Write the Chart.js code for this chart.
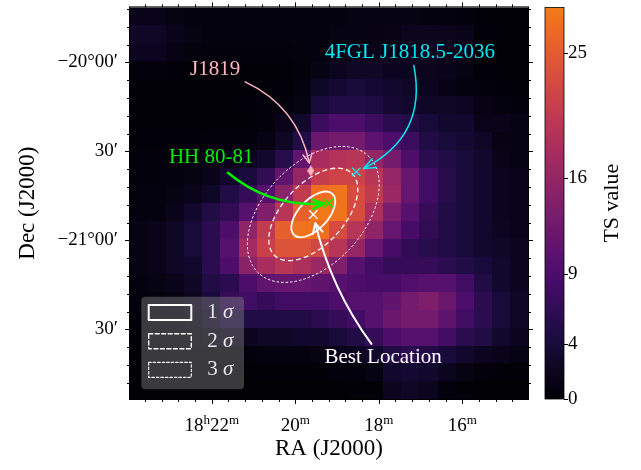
<!DOCTYPE html>
<html>
<head>
<meta charset="utf-8">
<script src="https://cdn.jsdelivr.net/npm/chart.js@4.4.1/dist/chart.umd.min.js"></script>
<style>
  html, body { margin: 0; padding: 0; background: #fff; }
</style>
</head>
<body>
<canvas id="tsChart" width="641" height="470"></canvas>
<script>
// TS map: 22 x 22 pixels of 0.1 deg; row 0 = north (top), col 0 = east (left)
const tsMap = [
  [1.5,1.5,1.0,0.8,0.8,0.8,0.8,0.8,0.8,0.8,0.8,0.9,1.0,1.0,1.0,1.0,0.9,0.7,0.5,0.3,0.3,0.3],
  [2.5,2.5,1.5,1.0,0.8,0.8,0.8,0.7,0.7,0.7,0.8,1.0,1.0,1.2,1.3,1.8,1.8,1.7,1.5,0.4,0.3,0.3],
  [2.0,2.0,1.2,0.6,0.5,0.5,0.5,0.5,0.5,0.6,0.8,1.2,1.5,1.5,1.5,2.0,2.0,1.8,1.5,0.4,0.3,0.3],
  [0.5,0.5,0.4,0.3,0.3,0.3,0.3,0.3,0.3,0.5,1.0,2.0,2.5,2.5,2.0,2.0,1.8,1.5,1.0,0.4,0.3,0.3],
  [0.3,0.3,0.3,0.3,0.3,0.3,0.3,0.3,0.4,0.8,2.5,3.5,4.0,3.5,3.0,2.5,2.0,1.2,0.8,0.5,0.4,0.3],
  [0.3,0.3,0.3,0.3,0.3,0.3,0.4,0.5,0.5,1.0,4.0,5.0,5.0,4.5,3.5,3.0,2.5,2.5,2.2,1.2,0.7,0.5],
  [0.3,0.3,0.3,0.3,0.3,0.3,0.3,0.5,1.5,3.0,7.5,9.0,9.0,7.5,6.0,5.0,4.0,3.0,3.0,1.5,1.5,1.0],
  [0.4,0.4,0.4,0.4,0.5,0.5,0.5,1.0,2.5,5.0,12,13,13,10.5,9.0,7.5,5.0,4.0,3.5,2.5,1.2,1.0],
  [0.5,0.5,0.5,0.7,1.0,1.5,2.0,3.0,5.5,11,18,19,19.5,16,13,9.0,6.0,5.0,4.0,3.0,1.5,1.0],
  [0.5,0.5,0.7,1.0,1.5,3.0,4.0,6.5,11,16,21,22,22,19.5,16,11.5,8.0,5.5,4.0,3.0,2.0,1.5],
  [0.6,0.7,1.0,1.5,2.5,5.0,7.0,10,15,20.5,27,27.5,23,20.5,16.5,11.5,8.0,5.5,4.0,3.0,2.0,1.5],
  [0.7,0.8,1.5,3.0,5.0,6.5,10,14,19.5,25.5,28,27.5,23,18.5,13.5,10,7.0,5.0,4.0,3.0,2.0,1.5],
  [1.0,1.5,2.5,4.0,6.0,9.0,15.5,20.5,25.5,27.5,27,23,19.5,15.5,11.5,8.5,6.5,5.0,4.0,3.0,2.2,1.6],
  [1.0,1.5,2.5,4.0,6.0,10,17.5,21.5,24,24,22.5,19.5,16,11.5,8.5,6.5,5.5,5.0,4.0,3.0,2.5,2.0],
  [1.0,1.5,2.5,3.0,6.0,9.0,15,18,19.5,18.5,16.5,14,10,8.0,7.0,7.0,7.0,6.0,5.0,4.0,3.0,2.0],
  [0.7,1.0,1.5,2.5,5.0,6.0,9.0,11,11.5,11.5,11,10,9.0,8.5,8.5,9.5,10,10,8.0,5.0,3.0,2.0],
  [0.5,0.8,1.0,2.0,4.0,7.0,8.0,7.0,8.0,8.0,8.0,9.0,10,10,11,13,14,12,9.0,6.0,4.0,2.5],
  [0.4,0.6,0.8,1.5,3.0,5.0,5.0,5.0,5.0,5.0,6.0,7.0,8.0,10,12,13,13,11,8.0,6.0,4.0,2.5],
  [0.3,0.4,0.5,0.8,1.5,2.0,2.0,2.5,2.5,3.0,3.0,4.0,5.0,7.0,9.0,10,10,8.0,6.0,5.0,3.0,2.0],
  [0.2,0.2,0.3,0.3,0.3,0.4,0.5,0.7,0.7,0.8,1.0,1.5,2.0,3.0,5.0,6.0,5.0,4.0,3.0,2.0,1.5,1.0],
  [0.1,0.1,0.1,0.1,0.1,0.1,0.2,0.2,0.2,0.2,0.3,0.5,0.5,1.0,3.0,3.5,3.0,2.0,1.0,0.5,0.3,0.3],
  [0.1,0.1,0.1,0.1,0.1,0.1,0.1,0.1,0.1,0.1,0.1,0.1,0.2,0.3,2.0,2.5,2.0,0.5,0.2,0.1,0.1,0.1]
];
const mapRaLeft = 23.957;  // RA of left edge, minutes past 18h
const mapRaStep = 0.4333;  // RA minutes per map pixel
const mapDecTop = -19.691; // Dec of top edge, deg
const mapDecStep = 0.1;

const raMajorTicks = [22, 20, 18, 16];
const raTickHour = ['18', '', '', ''];
const raTickMin = ['22', '20', '18', '16'];
const raMinorStep = 0.4;
const decMajorTicks = [-20, -20.5, -21, -21.5];
const decTickLabels = ['\u221220\u00b000\u2032', '30\u2032', '\u221221\u00b000\u2032', '30\u2032'];
const decMinorStep = 0.1;

const tsTicks = [0, 4, 9, 16, 25];
const tsMax = 28.3;

const srcNames = ['Best Location', 'HH 80-81', '4FGL J1818.5-2036', 'J1819'];
const srcRa = [19.567, 19.202, 18.537, 19.629];
const srcDec = [-20.854, -20.791, -20.615, -20.609];
const srcColors = ['#ffffff', '#00f000', '#00e8f0', '#ffb6c1'];

// error contours around the best location (deg)
const sigmaLabels = ['1', '2', '3'];
const sigmaMajor = [0.158, 0.317, 0.451];
const sigmaMinor = [0.082, 0.172, 0.282];
const sigmaAngle = 47;

const FONT = "'Liberation Serif', 'DejaVu Serif', serif";
Chart.defaults.font.family = FONT;
Chart.defaults.color = '#000';

// inferno, cut at 0.71
const cmapT = [0, 0.111, 0.222, 0.25, 0.333, 0.444, 0.5, 0.556, 0.667, 0.75];
const cmapRGB = [[0,0,4],[27,12,65],[74,12,107],[86,16,110],[120,28,109],[165,44,96],[187,55,84],[207,68,70],[237,105,37],[249,140,10]];
function tsColor(v) {
  const t = Math.max(0, Math.min(1, v / tsMax)) * 0.71;
  let i = 0;
  while (i < cmapT.length - 2 && t > cmapT[i + 1]) i++;
  const f = (t - cmapT[i]) / (cmapT[i + 1] - cmapT[i]);
  const c = cmapRGB[i].map((a, k) => Math.round(a + (cmapRGB[i + 1][k] - a) * f));
  return 'rgb(' + c.join(',') + ')';
}

const diamond = document.createElement('canvas');
diamond.width = 7; diamond.height = 11;
(function () {
  const d = diamond.getContext('2d');
  d.fillStyle = srcColors[3];
  d.beginPath(); d.moveTo(3.5, 0); d.lineTo(7, 5.5); d.lineTo(3.5, 11); d.lineTo(0, 5.5); d.closePath(); d.fill();
})();

// annotation layout: text centre in axes fraction, arrow start offset (px), arc rad
const notes = [
  { src: 0, fx: 0.636, fy: 0.895, dx: -11.7, dy: -14, rad: 0.1, lw: 2, shrink: 9, hl: 10, hw: 5 },
  { src: 1, fx: 0.204, fy: 0.384, dx: 16.7, dy: 15, rad: -0.2, lw: 2.5, shrink: 4.5, hl: 11, hw: 4.5 },
  { src: 2, fx: 0.703, fy: 0.114, dx: 4, dy: 13.4, rad: 0.38, lw: 1.5, shrink: 8, hl: 12, hw: 5 },
  { src: 3, fx: 0.214, fy: 0.158, dx: 30, dy: 12.6, rad: 0.25, lw: 1.5, shrink: 8, hl: 9, hw: 4.5 }
];

function arcCtrl(p0, p2, rad) {
  const dx = p2[0] - p0[0], dy = p2[1] - p0[1];
  return [(p0[0] + p2[0]) / 2 + rad * dy, (p0[1] + p2[1]) / 2 - rad * dx];
}

const tsMapPlugin = {
  id: 'tsMap',
  beforeDatasetsDraw(chart) {
    const { ctx, chartArea: a, scales: { x, y } } = chart;
    ctx.save();
    ctx.beginPath();
    ctx.rect(a.left, a.top, a.right - a.left, a.bottom - a.top);
    ctx.clip();
    tsMap.forEach((row, r) => row.forEach((v, c) => {
      const x0 = Math.round(x.getPixelForValue(mapRaLeft - c * mapRaStep));
      const x1 = Math.round(x.getPixelForValue(mapRaLeft - (c + 1) * mapRaStep));
      const y0 = Math.round(y.getPixelForValue(mapDecTop - r * mapDecStep));
      const y1 = Math.round(y.getPixelForValue(mapDecTop - (r + 1) * mapDecStep));
      ctx.fillStyle = tsColor(v);
      ctx.fillRect(x0, y0, x1 - x0, y1 - y0);
    }));

    const cx = x.getPixelForValue(srcRa[0]);
    const cy = y.getPixelForValue(srcDec[0]);
    const ppd = Math.abs(y.getPixelForValue(-20) - y.getPixelForValue(-21));
    const dashes = [[], [5, 3], [2.5, 2]];
    const widths = [1.8, 1.3, 1.0];
    ctx.strokeStyle = '#ffffff';
    sigmaMajor.forEach((sa, i) => {
      ctx.lineWidth = widths[i];
      ctx.setLineDash(dashes[i]);
      ctx.beginPath();
      ctx.ellipse(cx, cy, sa * ppd, sigmaMinor[i] * ppd, -sigmaAngle * Math.PI / 180, 0, 2 * Math.PI);
      ctx.stroke();
    });
    ctx.restore();
  },
  afterDatasetsDraw(chart) {
    const { ctx, chartArea: a, scales: { x, y } } = chart;
    const w = a.right - a.left, h = a.bottom - a.top;
    ctx.save();
    // annotations
    notes.forEach(n => {
      const col = srcColors[n.src];
      const tx = a.left + n.fx * w, ty = a.top + n.fy * h;
      ctx.font = '21px ' + FONT;
      ctx.fillStyle = col;
      ctx.textAlign = 'center';
      ctx.textBaseline = 'middle';
      ctx.fillText(srcNames[n.src], tx, ty);

      const p0 = [tx + n.dx, ty + n.dy];
      const tgt = [x.getPixelForValue(srcRa[n.src]), y.getPixelForValue(srcDec[n.src])];
      let c = arcCtrl(p0, tgt, n.rad);
      let ux = tgt[0] - c[0], uy = tgt[1] - c[1];
      let ul = Math.hypot(ux, uy);
      const tip = [tgt[0] - n.shrink * ux / ul, tgt[1] - n.shrink * uy / ul];
      c = arcCtrl(p0, tip, n.rad);
      ux = tip[0] - c[0]; uy = tip[1] - c[1]; ul = Math.hypot(ux, uy);
      ux /= ul; uy /= ul;
      ctx.strokeStyle = col;
      ctx.lineWidth = n.lw;
      ctx.lineCap = 'round';
      ctx.lineJoin = 'round';
      ctx.beginPath();
      ctx.moveTo(p0[0], p0[1]);
      ctx.quadraticCurveTo(c[0], c[1], tip[0], tip[1]);
      ctx.stroke();
      ctx.beginPath();
      ctx.moveTo(tip[0] - n.hl * ux - n.hw * uy, tip[1] - n.hl * uy + n.hw * ux);
      ctx.lineTo(tip[0], tip[1]);
      ctx.lineTo(tip[0] - n.hl * ux + n.hw * uy, tip[1] - n.hl * uy - n.hw * ux);
      ctx.stroke();
    });

    // legend
    const lx = a.left + 11.3, lw = 102.7, lh = 92.6;
    const ly = a.bottom - 9.7 - lh;
    ctx.fillStyle = 'rgba(128,128,128,0.45)';
    ctx.beginPath();
    ctx.roundRect(lx, ly, lw, lh, 4);
    ctx.fill();
    const dashes = [[], [4, 2.5], [2.5, 2]];
    const widths = [2, 1.4, 1.1];
    sigmaLabels.forEach((lab, i) => {
      const hy = ly + 15.8 + i * 28.7;
      ctx.strokeStyle = '#ffffff';
      ctx.lineWidth = widths[i];
      ctx.setLineDash(dashes[i]);
      ctx.strokeRect(lx + 7.4, hy - 7.5, 42.6, 15);
      ctx.setLineDash([]);
      ctx.fillStyle = '#e8e8e8';
      ctx.textAlign = 'left';
      ctx.textBaseline = 'middle';
      ctx.font = '21px ' + FONT;
      const t1 = lab + ' ';
      ctx.fillText(t1, lx + 66, hy);
      const tw = ctx.measureText(t1).width;
      ctx.font = 'italic 21px ' + FONT;
      ctx.fillText('\u03c3', lx + 66 + tw, hy);
    });
    ctx.restore();
  },
  afterDraw(chart) {
    const { ctx, chartArea: a, scales: { x, y, cb } } = chart;
    ctx.save();
    ctx.strokeStyle = '#000';
    ctx.lineWidth = 1;
    const line = (x0, y0, x1, y1) => { ctx.beginPath(); ctx.moveTo(x0, y0); ctx.lineTo(x1, y1); ctx.stroke(); };
    ctx.strokeRect(a.left - 0.5, a.top - 0.5, a.right - a.left + 1, a.bottom - a.top + 1);

    // RA ticks (top and bottom)
    for (let k = Math.ceil((x.min - 16) / raMinorStep - 1e-6); 16 + k * raMinorStep <= x.max + 1e-9; k++) {
      const v = 16 + k * raMinorStep;
      const major = raMajorTicks.some(m => Math.abs(m - v) < 1e-6);
      const len = major ? 5 : 3;
      const px = Math.round(x.getPixelForValue(v)) + 0.5;
      line(px, a.bottom, px, a.bottom + len);
      line(px, a.top, px, a.top - len);
    }
    // Dec ticks (left and right)
    for (let k = Math.ceil((y.min + 20) / decMinorStep - 1e-6); -20 + k * decMinorStep <= y.max + 1e-9; k++) {
      const v = -20 + k * decMinorStep;
      const major = decMajorTicks.some(m => Math.abs(m - v) < 1e-6);
      const len = major ? 5 : 3;
      const py = Math.round(y.getPixelForValue(v)) + 0.5;
      line(a.left, py, a.left - len, py);
      line(a.right, py, a.right + len, py);
    }

    // RA tick labels with superscripts
    ctx.fillStyle = '#000';
    ctx.textBaseline = 'alphabetic';
    ctx.textAlign = 'left';
    const base = '19px ' + FONT, sup = '13px ' + FONT;
    raMajorTicks.forEach((v, i) => {
      const parts = [];
      if (raTickHour[i]) parts.push([raTickHour[i], base, 0], ['h', sup, -7]);
      parts.push([raTickMin[i], base, 0], ['m', sup, -7]);
      let total = 0;
      parts.forEach(p => { ctx.font = p[1]; p.push(ctx.measureText(p[0]).width); total += p[3]; });
      let px = x.getPixelForValue(v) - total / 2;
      parts.forEach(p => { ctx.font = p[1]; ctx.fillText(p[0], px, 431 + p[2]); px += p[3]; });
    });

    // colour bar
    const bx0 = a.right + 17, bx1 = a.right + 36;
    const by0 = cb.getPixelForValue(tsMax), by1 = cb.getPixelForValue(0);
    const grad = ctx.createLinearGradient(0, by1, 0, by0);
    for (let s = 0; s <= 40; s++) grad.addColorStop(s / 40, tsColor(tsMax * s / 40));
    ctx.fillStyle = grad;
    ctx.fillRect(bx0, by0, bx1 - bx0, by1 - by0);
    ctx.lineWidth = 0.8;
    ctx.strokeRect(bx0, by0, bx1 - bx0, by1 - by0);
    ctx.lineWidth = 1;
    tsTicks.forEach(v => {
      const py = Math.round(cb.getPixelForValue(v)) + 0.5;
      line(bx1, py, bx1 + 4, py);
    });
    ctx.translate(612, (a.top + a.bottom) / 2);
    ctx.rotate(-Math.PI / 2);
    ctx.fillStyle = '#000';
    ctx.font = '22px ' + FONT;
    ctx.textAlign = 'center';
    ctx.textBaseline = 'middle';
    ctx.fillText('TS value', 0, 0);
    ctx.restore();
  }
};

new Chart(document.getElementById('tsChart').getContext('2d'), {
  type: 'scatter',
  data: {
    datasets: srcNames.map((name, i) => ({
      label: name,
      data: [{ x: srcRa[i], y: srcDec[i] }],
      pointStyle: i === 3 ? diamond : 'crossRot',
      pointRadius: 6,
      pointHoverRadius: 6,
      borderColor: srcColors[i],
      backgroundColor: srcColors[i],
      borderWidth: 1.4
    }))
  },
  options: {
    responsive: false,
    animation: false,
    devicePixelRatio: 1,
    events: [],
    layout: { padding: { top: 3, left: 0, right: 0, bottom: 0 } },
    plugins: { legend: { display: false }, tooltip: { enabled: false } },
    scales: {
      x: {
        type: 'linear',
        reverse: true,
        min: mapRaLeft - tsMap[0].length * mapRaStep,
        max: mapRaLeft,
        grid: { display: false, drawTicks: false },
        border: { display: false },
        ticks: { display: false },
        title: { display: true, text: 'RA (J2000)', font: { size: 23 }, padding: { top: 0, bottom: 7 } },
        afterFit(s) { s.height = 71; s.paddingLeft = 0; s.paddingRight = 0; }
      },
      y: {
        type: 'linear',
        position: 'left',
        min: mapDecTop - tsMap.length * mapDecStep,
        max: mapDecTop,
        grid: { display: false, drawTicks: false },
        border: { display: false },
        afterBuildTicks(s) { s.ticks = decMajorTicks.map(v => ({ value: v })); },
        ticks: {
          autoSkip: false,
          padding: 12,
          font: { size: 19 },
          callback: v => decTickLabels[decMajorTicks.findIndex(m => Math.abs(m - v) < 1e-6)]
        },
        title: { display: true, text: 'Dec (J2000)', font: { size: 23 }, padding: { top: 14, bottom: 0 } },
        afterFit(s) { s.width = 130; s.paddingTop = 0; s.paddingBottom = 0; }
      },
      cb: {
        type: 'linear',
        position: 'right',
        min: 0,
        max: tsMax,
        grid: { display: false, drawTicks: false },
        border: { display: false },
        afterBuildTicks(s) { s.ticks = tsTicks.map(v => ({ value: v })); },
        ticks: { autoSkip: false, padding: 40, font: { size: 19 }, callback: v => String(v) },
        afterFit(s) { s.width = 113; s.paddingTop = 0; s.paddingBottom = 0; }
      }
    }
  },
  plugins: [tsMapPlugin]
});
</script>
</body>
</html>
